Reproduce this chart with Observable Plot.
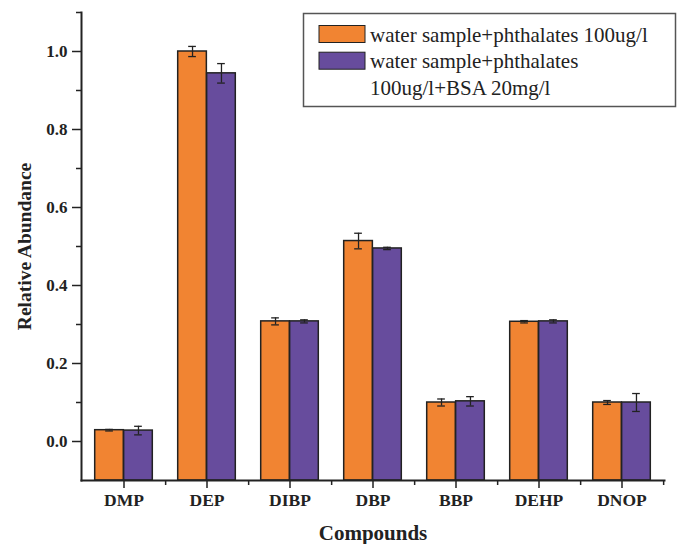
<!DOCTYPE html>
<html>
<head>
<meta charset="utf-8">
<script src="https://cdn.jsdelivr.net/npm/d3@7"></script>
<script src="https://cdn.jsdelivr.net/npm/@observablehq/plot@0.6"></script>
<style>
  html, body { margin: 0; padding: 0; background: #fff; }
  #chart svg { display: block; }
</style>
</head>
<body>
<div id="chart"></div>
<script>
const compounds = ["DMP", "DEP", "DIBP", "DBP", "BBP", "DEHP", "DNOP"];
const seriesNames = ["water sample+phthalates 100ug/l", "water sample+phthalates 100ug/l+BSA 20mg/l"];
const phthalates = [0.029, 1.000, 0.308, 0.514, 0.100, 0.307, 0.100];
const phthalatesErr = [0.002, 0.013, 0.009, 0.020, 0.009, 0.003, 0.005];
const withBSA = [0.028, 0.944, 0.308, 0.495, 0.103, 0.308, 0.100];
const withBSAErr = [0.011, 0.025, 0.004, 0.003, 0.012, 0.004, 0.023];
const yMajorTicks = [0.0, 0.2, 0.4, 0.6, 0.8, 1.0];
const yMinorTicks = [0.1, 0.3, 0.5, 0.7, 0.9, 1.1];
const colors = ["#F18432", "#674C9D"];

const rows = compounds.map((c, i) => ({
  compound: c,
  a: phthalates[i], aLo: phthalates[i] - phthalatesErr[i], aHi: phthalates[i] + phthalatesErr[i],
  b: withBSA[i], bLo: withBSA[i] - withBSAErr[i], bHi: withBSA[i] + withBSAErr[i]
}));

const W = 681, H = 544;
const mL = 81, mR = 17, mT = 12, mB = 64;
const band = (W - mL - mR) / compounds.length;   // ~83.3
const outer = 12.7;                               // gap from band edge to bar pair
const half = band / 2;
const barW = half - outer;
const capInset = (barW - 8) / 2;
const serif = "'Liberation Serif', 'Times New Roman', Times, serif";
const dark = "#222";

const plot = Plot.plot({
  width: W,
  height: H,
  marginLeft: mL,
  marginRight: mR,
  marginTop: mT,
  marginBottom: mB,
  style: { fontFamily: serif, color: dark, background: "#fff" },
  x: { domain: compounds, padding: 0, label: null },
  y: { domain: [-0.1, 1.1], label: null },
  marks: [
    // bars
    Plot.barY(rows, { x: "compound", y1: -0.1, y2: "a", insetLeft: outer, insetRight: half,
      fill: colors[0], stroke: dark, strokeWidth: 1.5 }),
    Plot.barY(rows, { x: "compound", y1: -0.1, y2: "b", insetLeft: half, insetRight: outer,
      fill: colors[1], stroke: dark, strokeWidth: 1.5 }),
    // error bars
    Plot.ruleX(rows, { x: "compound", y1: "aLo", y2: "aHi", dx: -barW / 2, stroke: dark, strokeWidth: 1.3 }),
    Plot.ruleX(rows, { x: "compound", y1: "bLo", y2: "bHi", dx: barW / 2, stroke: dark, strokeWidth: 1.3 }),
    Plot.tickY(rows, { x: "compound", y: "aLo", insetLeft: outer + capInset, insetRight: half + capInset, stroke: dark, strokeWidth: 1.3 }),
    Plot.tickY(rows, { x: "compound", y: "aHi", insetLeft: outer + capInset, insetRight: half + capInset, stroke: dark, strokeWidth: 1.3 }),
    Plot.tickY(rows, { x: "compound", y: "bLo", insetLeft: half + capInset, insetRight: outer + capInset, stroke: dark, strokeWidth: 1.3 }),
    Plot.tickY(rows, { x: "compound", y: "bHi", insetLeft: half + capInset, insetRight: outer + capInset, stroke: dark, strokeWidth: 1.3 }),
    // axes
    Plot.axisY({ ticks: yMajorTicks, tickFormat: d => d.toFixed(1), tickSize: 9, tickPadding: 5,
      fontSize: 17, fontWeight: "bold", stroke: dark, strokeWidth: 1.5, label: null }),
    Plot.axisY({ ticks: yMinorTicks, tickSize: 5, text: null, stroke: dark, strokeWidth: 1.5, label: null }),
    Plot.axisX({ tickSize: 8, tickPadding: 5, fontSize: 17.5, fontWeight: "bold", stroke: dark, strokeWidth: 1.5, label: null }),
    Plot.axisX({ tickSize: 5, text: null, dx: half, stroke: dark, strokeWidth: 1.5, label: null }),
    Plot.frame({ anchor: "left", stroke: dark, strokeWidth: 2 }),
    Plot.frame({ anchor: "bottom", stroke: dark, strokeWidth: 2 }),
    // axis titles
    Plot.text(["Relative Abundance"], { frameAnchor: "left", dx: -57, rotate: -90, fontSize: 19.5,
      fontWeight: "bold", fill: dark, textAnchor: "middle", lineAnchor: "middle" }),
    Plot.text(["Compounds"], { frameAnchor: "bottom", dy: 53, fontSize: 21, fontWeight: "bold",
      fill: dark, textAnchor: "middle", lineAnchor: "middle" })
  ]
});

document.getElementById("chart").appendChild(plot);

// Legend (drawn inside the plot area, top right)
const svg = d3.select(plot);
const lg = svg.append("g").attr("font-family", serif).attr("font-size", 21)
  .attr("fill", dark).attr("text-anchor", "start");
lg.append("rect").attr("x", 303.5).attr("y", 13.5).attr("width", 372).attr("height", 93)
  .attr("fill", "#fff").attr("stroke", "#555").attr("stroke-width", 1.5);
const legendLines = [
  { swatch: colors[0], lines: [seriesNames[0]] },
  { swatch: colors[1], lines: ["water sample+phthalates", "100ug/l+BSA 20mg/l"] }
];
let baseY = 41.5;
legendLines.forEach((item) => {
  lg.append("rect").attr("x", 319).attr("y", baseY - 16).attr("width", 46).attr("height", 17)
    .attr("fill", item.swatch).attr("stroke", dark).attr("stroke-width", 1);
  item.lines.forEach((t) => {
    lg.append("text").attr("x", 370).attr("y", baseY).attr("text-anchor", "start").text(t);
    baseY += 26.7;
  });
});
</script>
</body>
</html>
